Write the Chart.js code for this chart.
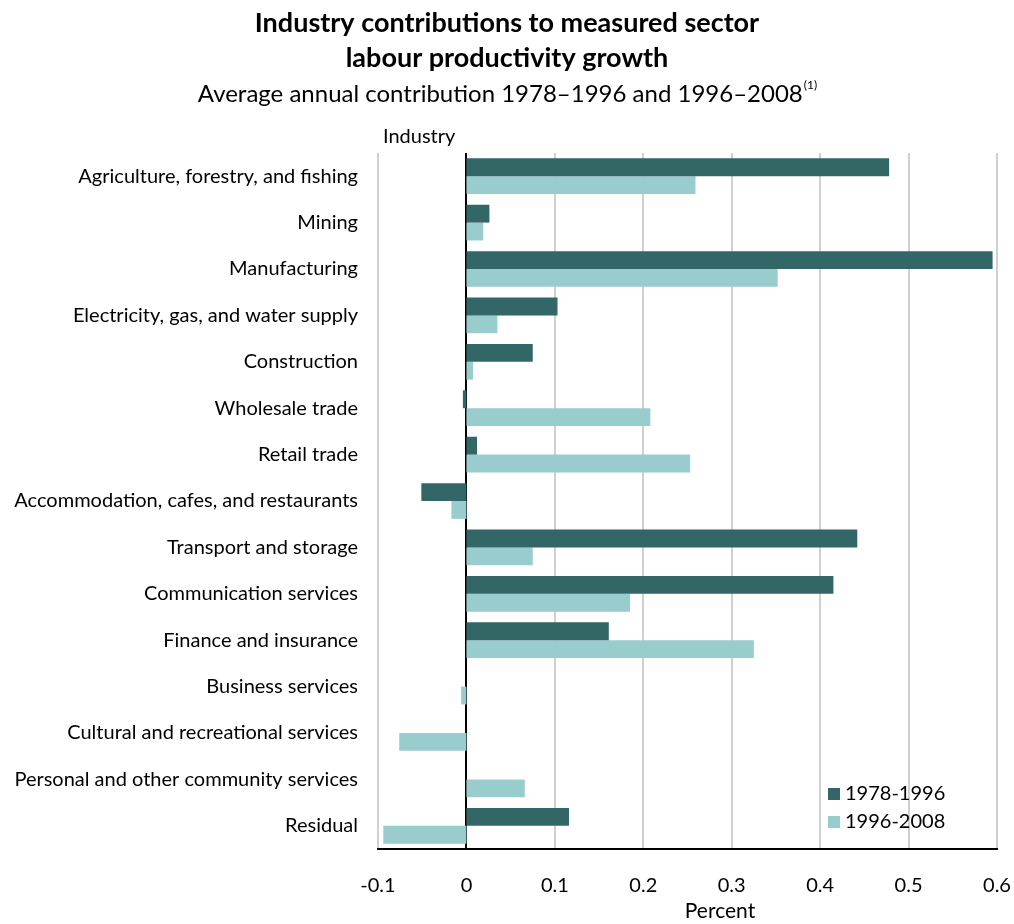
<!DOCTYPE html>
<html><head><meta charset="utf-8">
<script src="https://cdn.jsdelivr.net/npm/chart.js@4.4.1/dist/chart.umd.min.js"></script>
<style>html,body{margin:0;padding:0;background:#fff}#wrap{width:1014px;height:924px;position:relative}</style>
</head><body><div id="wrap"><canvas id="c" width="1014" height="924"></canvas></div>
<script>
const categories = [
  'Agriculture, forestry, and fishing', 'Mining', 'Manufacturing',
  'Electricity, gas, and water supply', 'Construction', 'Wholesale trade',
  'Retail trade', 'Accommodation, cafes, and restaurants', 'Transport and storage',
  'Communication services', 'Finance and insurance', 'Business services',
  'Cultural and recreational services', 'Personal and other community services', 'Residual'
];
const seriesNames = ['1978-1996', '1996-2008'];
const values1978_1996 = [0.478, 0.026, 0.595, 0.103, 0.075, -0.004, 0.012, -0.051, 0.442, 0.415, 0.161, null, null, null, 0.116];
const values1996_2008 = [0.259, 0.019, 0.352, 0.035, 0.0075, 0.208, 0.253, -0.017, 0.075, 0.185, 0.325, -0.006, -0.076, 0.066, -0.094];
const xTickLabels = ['-0.1', '0', '0.1', '0.2', '0.3', '0.4', '0.5', '0.6'];
const titleLines = ['Industry contributions to measured sector', 'labour productivity growth'];
const subtitleText = 'Average annual contribution 1978\u20131996 and 1996\u20132008';
const subtitleNote = '(1)';
const yAxisTitle = 'Industry';
const xAxisTitle = 'Percent';

const FONT = 'Lato, "Liberation Sans", sans-serif';
const colors = ['#336666', '#99cccc'];

const headPlugin = {
  id: 'heads',
  afterDraw(chart) {
    const ctx = chart.ctx;
    const ca = chart.chartArea;
    const cx = chart.width / 2;
    ctx.save();
    ctx.fillStyle = '#000';
    ctx.textBaseline = 'middle';
    ctx.textAlign = 'center';
    ctx.font = 'bold 27px ' + FONT;
    ctx.fillText(titleLines[0], cx, 23);
    ctx.fillText(titleLines[1], cx, 58);
    ctx.font = '21px ' + FONT;
    ctx.fillText(xAxisTitle, 720, 911);
    ctx.font = '24px ' + FONT;
    const w = ctx.measureText(subtitleText).width;
    ctx.font = '12px ' + FONT;
    const wn = ctx.measureText(subtitleNote).width;
    const x0 = cx - (w + wn) / 2;
    ctx.textAlign = 'left';
    ctx.font = '24px ' + FONT;
    ctx.fillText(subtitleText, x0, 94);
    ctx.font = '12px ' + FONT;
    ctx.fillText(subtitleNote, x0 + w + 1, 85);
    ctx.font = '20px ' + FONT;
    ctx.fillText(yAxisTitle, ca.left + 5, 137);
    // legend
    const lx = ca.right - 169;
    chart.data.datasets.forEach((ds, i) => {
      const cy = ca.bottom - 55 + i * 28;
      ctx.fillStyle = ds.backgroundColor;
      ctx.fillRect(lx, cy - 6, 12, 12);
      ctx.fillStyle = '#000';
      ctx.font = '20px ' + FONT;
      ctx.fillText(ds.label, lx + 17, cy);
    });
    ctx.restore();
  }
};

new Chart(document.getElementById('c'), {
  type: 'bar',
  data: {
    labels: categories,
    datasets: [
      { label: seriesNames[0], data: values1978_1996, backgroundColor: colors[0], borderWidth: 0 },
      { label: seriesNames[1], data: values1996_2008, backgroundColor: colors[1], borderWidth: 0 }
    ]
  },
  options: {
    indexAxis: 'y',
    responsive: false,
    animation: false,
    devicePixelRatio: 1,
    categoryPercentage: 0.77,
    barPercentage: 1.0,
    layout: { padding: { top: 153, bottom: 0, left: 0, right: 17 } },
    plugins: { legend: { display: false }, title: { display: false }, tooltip: { enabled: false } },
    scales: {
      x: {
        min: -0.1, max: 0.6,
        afterFit: s => { s.height = 75; s.paddingLeft = 0; s.paddingRight = 0; },
        ticks: {
          stepSize: 0.1,
          callback: (v, i) => xTickLabels[i],
          font: { family: FONT, size: 20 },
          color: '#000',
          padding: 25
        },
        grid: {
          drawTicks: false,
          lineWidth: 2,
          color: c => (c.tick && Math.abs(c.tick.value) < 1e-9) ? '#000' : '#d0d0d0'
        },
        border: { color: '#000', width: 2 },
        title: { display: false }
      },
      y: {
        afterFit: s => { s.width = 378; },
        ticks: { font: { family: FONT, size: 20 }, color: '#000', padding: 20 },
        grid: { display: false, drawTicks: false },
        border: { display: false }
      }
    }
  },
  plugins: [headPlugin]
});
</script>
</body></html>
